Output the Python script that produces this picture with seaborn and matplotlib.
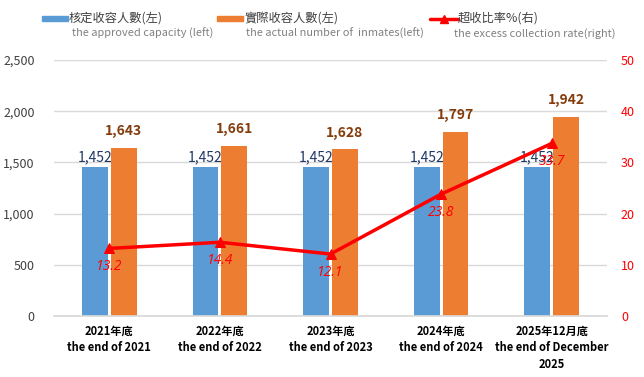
import matplotlib.pyplot as plt
import matplotlib.patches as mpatches
import matplotlib.lines as mlines
import seaborn as sns
import pandas as pd
import numpy as np

# data
categories = ["2021年底\nthe end of 2021", "2022年底\nthe end of 2022", "2023年底\nthe end of 2023",
              "2024年底\nthe end of 2024", "2025年12月底\nthe end of December\n2025"]
approved = [1452, 1452, 1452, 1452, 1452]
actual = [1643, 1661, 1628, 1797, 1942]
excess_rate = [13.2, 14.4, 12.1, 23.8, 33.7]
series_names = ["核定收容人數(左)", "實際收容人數(左)"]
series_en = ["the approved capacity (left)", "the actual number of  inmates(left)", "the excess collection rate(right)"]
line_name = "超收比率%(右)"

blue = "#5B9BD5"
orange = "#ED7D31"
red = "#FF0000"

sns.set_theme(style="white")
plt.rcParams['font.family'] = ['Noto Sans CJK TC', 'DejaVu Sans']

df = pd.DataFrame({
    "cat": categories * 2,
    "val": approved + actual,
    "series": [series_names[0]] * len(categories) + [series_names[1]] * len(categories),
})

fig = plt.figure(figsize=(6.44, 3.77), dpi=100)
ax = fig.add_axes([54 / 644, 1 - 316 / 377, (607 - 54) / 644, (316 - 60) / 377])

sns.barplot(data=df, x="cat", y="val", hue="series", palette=[blue, orange],
            width=0.52, gap=0.1, ax=ax, legend=False, saturation=1, linewidth=0)
ax.set_xlim(-0.5, len(categories) - 0.5)
ax.set_ylim(0, 2500)
ax.set_yticks(np.arange(0, 2501, 500))
ax.set_yticklabels([f"{v:,}" for v in range(0, 2501, 500)], fontsize=9, color="#404040")
ax.yaxis.grid(True, color="#D9D9D9", linewidth=1)
ax.set_axisbelow(True)
for s in ["top", "right", "left"]:
    ax.spines[s].set_visible(False)
ax.spines["bottom"].set_color("#D9D9D9")
ax.tick_params(axis="y", length=0, pad=14)
ax.tick_params(axis="x", length=0, pad=6)
ax.set_xticks(range(len(categories)))
ax.set_xticklabels(categories, fontsize=8, fontweight="bold", color="black", linespacing=1.4)
ax.set_xlabel("")
ax.set_ylabel("")

ax.bar_label(ax.containers[0], labels=[f"{v:,}" for v in approved], padding=2,
             fontsize=10, color="#1F3864")
ax.bar_label(ax.containers[1], labels=[f"{v:,}" for v in actual], padding=7,
             fontsize=10, color="#843C0C", fontweight="bold")

ax2 = ax.twinx()
sns.lineplot(x=list(range(len(categories))), y=excess_rate, ax=ax2, color=red,
             linewidth=2.5, marker="^", markersize=7, markeredgecolor=red)
ax2.set_ylim(0, 50)
ax2.set_yticks(range(0, 51, 10))
ax2.set_yticklabels([str(v) for v in range(0, 51, 10)], fontsize=9, color=red)
ax2.tick_params(axis="y", length=0, pad=10)
for s in ["top", "right", "left", "bottom"]:
    ax2.spines[s].set_visible(False)
ax2.set_ylabel("")
for i, v in enumerate(excess_rate):
    ax2.annotate(f"{v}", (i, v), xytext=(0, -13), textcoords="offset points",
                 ha="center", va="center", fontsize=10, color=red, fontstyle="italic",
                 family=["Open Sans", "DejaVu Sans"])

# legend, drawn by hand to match the layout
def px(x, y):
    return x / 644, 1 - y / 377

fig.add_artist(mpatches.Rectangle(px(42, 21), 26 / 644, 5 / 377, color=blue, transform=fig.transFigure))
fig.add_artist(mpatches.Rectangle(px(217, 21), 26 / 644, 5 / 377, color=orange, transform=fig.transFigure))
fig.add_artist(mlines.Line2D([430 / 644, 458 / 644], [1 - 18.5 / 377] * 2, color=red, linewidth=2.5,
                             transform=fig.transFigure))
fig.add_artist(mlines.Line2D([444 / 644], [1 - 18.5 / 377], color=red, marker="^", markersize=6,
                             transform=fig.transFigure))
for x, t in [(69, series_names[0]), (244, series_names[1]), (458, line_name)]:
    fig.text(*px(x, 18.5), t, fontsize=8.8, color="#404040", va="center", ha="left")
for x, t in [(72, series_en[0]), (246, series_en[1]), (454, series_en[2])]:
    fig.text(*px(x, 33.5), t, fontsize=7.9, color="#808080", va="center", ha="left")

fig.savefig("out.png", dpi=100)
